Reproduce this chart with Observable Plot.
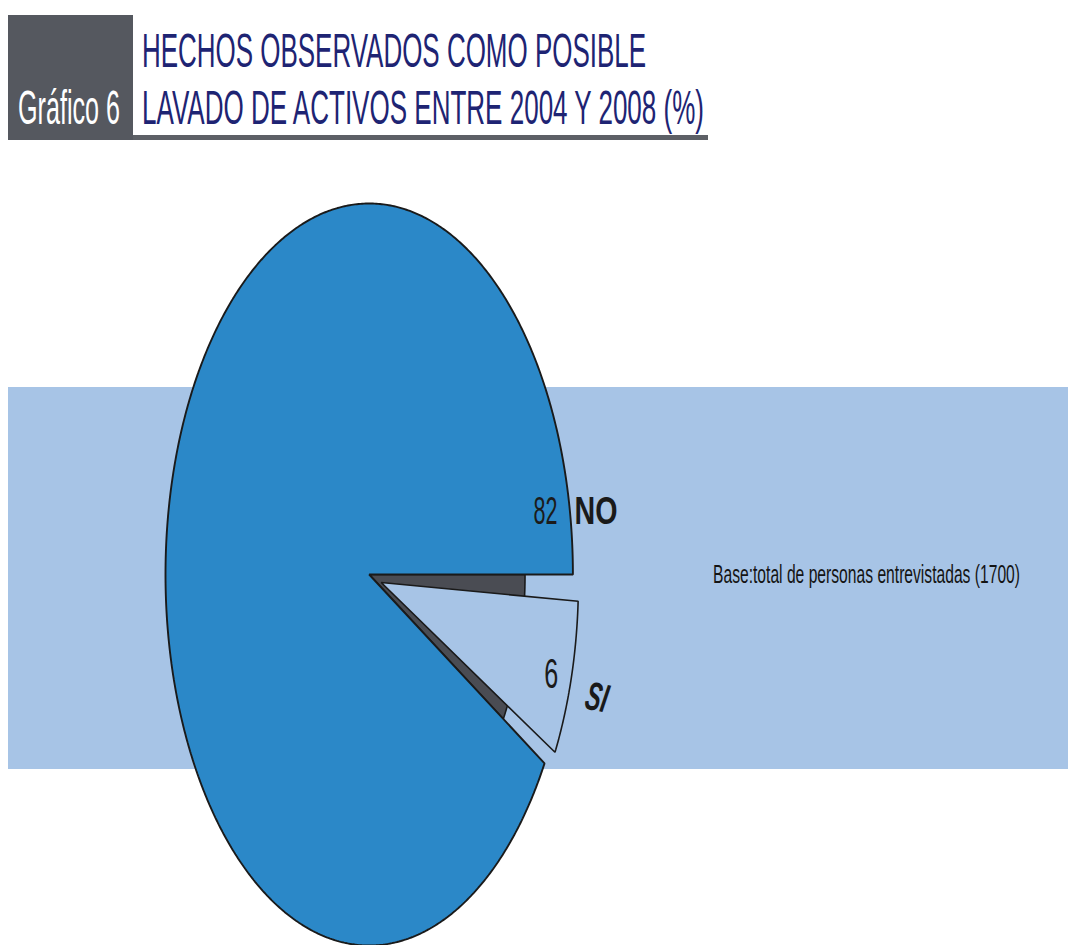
<!DOCTYPE html>
<html>
<head>
<meta charset="utf-8">
<script src="https://cdn.jsdelivr.net/npm/d3@7"></script>
<script src="https://cdn.jsdelivr.net/npm/@observablehq/plot@0.6"></script>
<style>
  html, body { margin: 0; padding: 0; background: #ffffff; }
  #page { position: relative; width: 1068px; height: 945px; overflow: hidden; font-family: "Liberation Sans", Arial, sans-serif; }
  .abs { position: absolute; white-space: nowrap; line-height: 1; transform-origin: 0 0; }
  #box { left: 8px; top: 15px; width: 125px; height: 125px; background: #55585f; }
  #rule { left: 133px; top: 135px; width: 575px; height: 5px; background: #5d6066; }
  .title { font-size: 48px; color: #1e2473; }
  #gnum { font-size: 48px; color: #ffffff; }
  #band { left: 8px; top: 387px; width: 1060px; height: 382px; background: #a7c4e6; }
  #chart { left: 0; top: 150px; }
  #caption { font-size: 26px; color: #141414; }
</style>
</head>
<body>
<div id="page">
  <div id="box" class="abs"></div>
  <div id="rule" class="abs"></div>
  <div id="gnum" class="abs" style="left:18px; top:84.4px;">Gráfico 6</div>
  <div id="t1" class="abs title" style="left:142px; top:27.4px;"></div>
  <div id="t2" class="abs title" style="left:142px; top:84.4px;"></div>
  <div id="band" class="abs"></div>
  <div id="chart" class="abs"></div>
  <div id="caption" class="abs" style="left:713px; top:560.7px;"></div>
</div>
<script>
// ---- data ----
const titleLines = ["HECHOS OBSERVADOS COMO POSIBLE", "LAVADO DE ACTIVOS ENTRE 2004 Y 2008 (%)"];
const categories = ["NO", "SI"];
const printedValues = [82, 6];          // percentages printed on the slices
const drawnShares = [91.5, 8.5];        // share of the circle each sector occupies as drawn
const captionText = "Base:total de personas entrevistadas (1700)";

// ---- header ----
document.getElementById("t1").textContent = titleLines[0];
document.getElementById("t2").textContent = titleLines[1];
document.getElementById("caption").textContent = captionText;

function fitWidth(id, target) {
  const el = document.getElementById(id);
  el.style.display = "inline-block";
  const w = el.getBoundingClientRect().width;
  el.style.transform = `scaleX(${target / w})`;
}
fitWidth("t1", 504);
fitWidth("t2", 562);
fitWidth("gnum", 102);
fitWidth("caption", 307);

// ---- pie geometry (angles clockwise from east, degrees) ----
const siSpan = drawnShares[1] / 100 * 360;
const siStart = 0, siEnd = siSpan;
const noStart = siEnd, noEnd = 360;

function sector(key, cx, cy, r, a0, a1) {
  const pts = [{key, x: cx, y: cy}];
  const n = Math.max(2, Math.ceil((a1 - a0) / 0.5));
  for (let i = 0; i <= n; i++) {
    const a = (a0 + (a1 - a0) * i / n) * Math.PI / 180;
    pts.push({key, x: cx + r * Math.cos(a), y: cy - r * Math.sin(a)});
  }
  return pts;
}
function polar(r, deg) {
  const a = deg * Math.PI / 180;
  return {x: r * Math.cos(a), y: -r * Math.sin(a)};
}

// exploded SI slice: depth wedge behind, face offset outward
const depth = sector("depth", 0, 0, 0.765, siStart, siEnd);
const noSlice = sector(categories[0], 0, 0, 1, noStart, noEnd);
const siFace = sector(categories[1], 0.059, -0.0216, 0.968, siStart + 3.0, siEnd - 2.4);

const labels = categories.map((c, i) => ({category: c, value: printedValues[i]}));
const noLab = labels[0], siLab = labels[1];

const pVal0 = polar(0.934, noEnd - 8.4);
const pCat0 = polar(1.017, noEnd - 7.7);
const pVal1 = polar(0.978, siStart + 18.3);
const pCat1 = polar(1.112, siStart + 18.9);

const font = "Liberation Sans, Arial, sans-serif";

const svg = Plot.plot({
  width: 1068,
  height: 795,
  margin: 0,
  x: {domain: [-1, 1], range: [165, 572.4], axis: null},
  y: {domain: [-1, 1], range: [795, 53], axis: null},
  style: {background: "transparent", overflow: "visible", fontFamily: font},
  marks: [
    Plot.line(depth, {x: "x", y: "y", curve: "linear-closed", fill: "#4a4c53", stroke: "#1a1a1a", strokeWidth: 1.6, strokeLinejoin: "miter"}),
    Plot.line(noSlice, {x: "x", y: "y", curve: "linear-closed", fill: "#2b88c8", stroke: "#1a1a1a", strokeWidth: 1.9, strokeLinejoin: "miter"}),
    Plot.line(siFace, {x: "x", y: "y", curve: "linear-closed", fill: "#a7c4e6", stroke: "#1a1a1a", strokeWidth: 1.6, strokeLinejoin: "miter"}),
    Plot.text([noLab], {x: () => pVal0.x, y: () => pVal0.y, text: d => String(d.value), textAnchor: "end", lineAnchor: "bottom", fontSize: 39, fill: "#1b1b1b"}),
    Plot.text([noLab], {x: () => pCat0.x, y: () => pCat0.y, text: d => d.category, textAnchor: "start", lineAnchor: "bottom", fontSize: 38, fontWeight: "bold", fill: "#1a1a1a"}),
    Plot.text([siLab], {x: () => pVal1.x, y: () => pVal1.y, text: d => String(d.value), textAnchor: "end", lineAnchor: "bottom", fontSize: 43, fill: "#1b1b1b"}),
    Plot.text([siLab], {x: () => pCat1.x, y: () => pCat1.y, text: d => d.category, textAnchor: "start", lineAnchor: "bottom", fontSize: 40, fontWeight: "bold", fontStyle: "italic", rotate: 12, fill: "#1a1a1a"})
  ]
});

const targetWidths = {"82": 24, "NO": 43, "6": 14, "SI": 22};
svg.querySelectorAll("text").forEach(t => {
  const w = targetWidths[t.textContent.trim()];
  if (w) {
    t.setAttribute("textLength", w);
    t.setAttribute("lengthAdjust", "spacingAndGlyphs");
  }
});

document.getElementById("chart").appendChild(svg);
</script>
</body>
</html>
